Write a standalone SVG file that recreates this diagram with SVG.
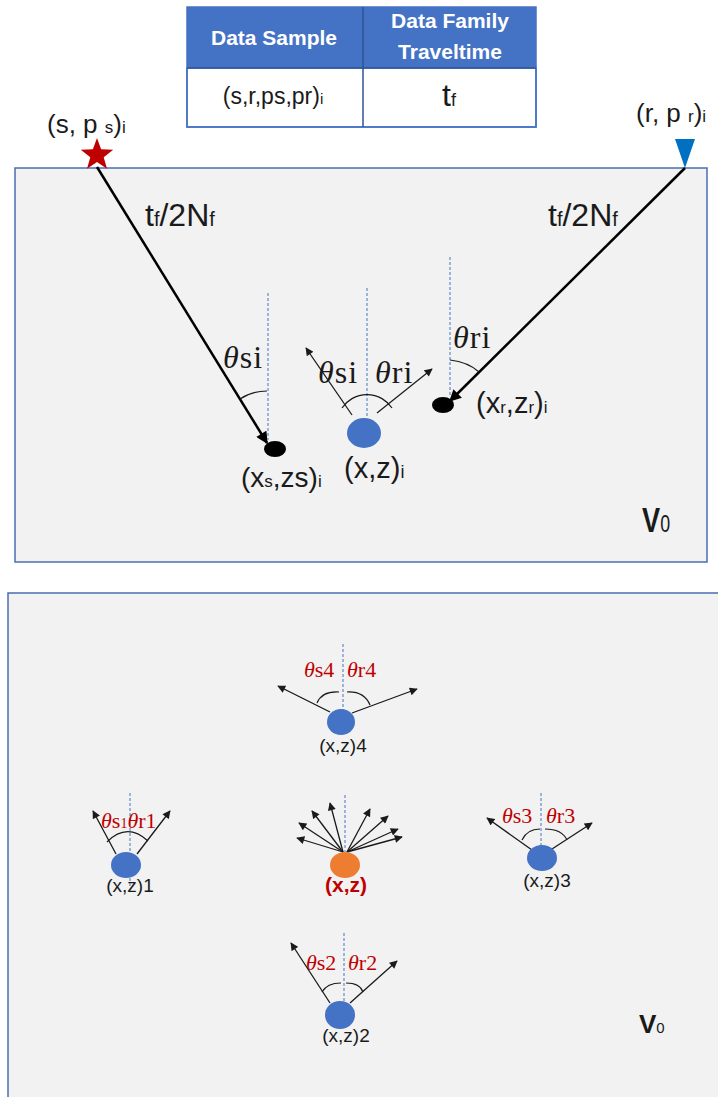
<svg xmlns="http://www.w3.org/2000/svg" width="718" height="1097" viewBox="0 0 718 1097">
<defs>
<style>
.panel{fill:#F2F2F2;stroke:#4A6EB0;stroke-width:1.5}
.sans{font-family:"Liberation Sans",Arial,sans-serif;fill:#1a1a1a}
.hdr{font-family:"Liberation Sans",Arial,sans-serif;font-weight:bold;fill:#fff;font-size:21px}
.serif{font-family:"Liberation Serif","Times New Roman",serif;fill:#1a1a1a}
.red{font-family:"Liberation Serif","Times New Roman",serif;fill:#C00000;font-size:22px}
.dash{stroke:#4472C4;stroke-width:1;stroke-dasharray:3,2;fill:none}
.thick{stroke:#000;stroke-width:2.5;fill:none}
.thin{stroke:#1a1a1a;stroke-width:1.3;fill:none}
.arc{stroke:#1a1a1a;stroke-width:1.2;fill:none}
.blue{fill:#4472C4}
.it{font-style:italic}
</style>
<marker id="ah" viewBox="0 0 10 10" refX="9" refY="5" markerWidth="13" markerHeight="12" markerUnits="userSpaceOnUse" orient="auto"><path d="M0,0 L10,5 L0,10 z" fill="#000"/></marker>
<marker id="as" viewBox="0 0 10 10" refX="9" refY="5" markerWidth="9" markerHeight="8" markerUnits="userSpaceOnUse" orient="auto"><path d="M0,0 L10,5 L0,10 z" fill="#1a1a1a"/></marker>
</defs>
<rect width="718" height="1097" fill="#fff"/>

<g id="table">
<rect x="187" y="7" width="349" height="61" fill="#4472C4"/>
<rect x="187" y="68" width="349" height="59" fill="#fff" stroke="#4472C4" stroke-width="1.5"/>
<rect x="187" y="7" width="349" height="120" fill="none" stroke="#4472C4" stroke-width="1.5"/>
<line x1="363" y1="7" x2="363" y2="127" stroke="#2F5597" stroke-width="1.5"/>
<line x1="187" y1="68" x2="536" y2="68" stroke="#2F5597" stroke-width="1.5"/>
<text class="hdr" x="274" y="45" text-anchor="middle">Data Sample</text>
<text class="hdr" x="450" y="28" text-anchor="middle">Data Family</text>
<text class="hdr" x="450" y="59" text-anchor="middle">Traveltime</text>
<text class="sans" x="273" y="104" text-anchor="middle" font-size="23">(s,r,ps,pr)<tspan font-size="15">i</tspan></text>
<text class="sans" x="449" y="106" text-anchor="middle" font-size="32">t<tspan font-size="18">f</tspan></text>
</g>

<g id="top-panel">
<rect class="panel" x="15" y="168" width="692" height="394"/>
</g>

<g id="bottom-panel">
<rect class="panel" x="8" y="593" width="720" height="520"/>
</g>

<g id="source">
<polygon points="97,138 101.1,149.3 113.2,149.8 103.7,157.2 107,168.8 97,162 87,168.8 90.3,157.2 80.8,149.8 92.9,149.3" fill="#C00000"/>
<text class="sans" x="47" y="133" font-size="26">(s, p <tspan font-size="17">s</tspan>)<tspan font-size="17">i</tspan></text>
</g>

<g id="receiver">
<polygon points="675,139 695,139 685,168" fill="#0070C0"/>
<text class="sans" x="636" y="122" font-size="26">(r, p <tspan font-size="17">r</tspan>)<tspan font-size="17">i</tspan></text>
</g>

<g id="connectors">
<line class="thick" x1="97" y1="167" x2="267" y2="443" marker-end="url(#ah)"/>
<line class="thick" x1="685" y1="168" x2="450" y2="401" marker-end="url(#ah)"/>
<line class="thin" x1="352" y1="415" x2="306" y2="348" marker-end="url(#as)"/>
<line class="thin" x1="377" y1="413" x2="432" y2="369" marker-end="url(#as)"/>
<line class="thin" x1="330" y1="712" x2="278" y2="686" marker-end="url(#as)"/>
<line class="thin" x1="352" y1="713" x2="417" y2="689" marker-end="url(#as)"/>
<line class="thin" x1="116" y1="854" x2="93" y2="811" marker-end="url(#as)"/>
<line class="thin" x1="137" y1="854" x2="170" y2="811" marker-end="url(#as)"/>
<line class="thin" x1="532" y1="850" x2="487" y2="818" marker-end="url(#as)"/>
<line class="thin" x1="552" y1="849" x2="592" y2="823" marker-end="url(#as)"/>
<line class="thin" x1="330" y1="1003" x2="291" y2="943" marker-end="url(#as)"/>
<line class="thin" x1="350" y1="1003" x2="397" y2="961" marker-end="url(#as)"/>
<line class="thin" x1="343" y1="852" x2="297" y2="838" marker-end="url(#as)"/>
<line class="thin" x1="343" y1="852" x2="299" y2="823" marker-end="url(#as)"/>
<line class="thin" x1="343" y1="852" x2="312" y2="811" marker-end="url(#as)"/>
<line class="thin" x1="343" y1="852" x2="330" y2="803" marker-end="url(#as)"/>
<line class="thin" x1="347" y1="852" x2="370" y2="809" marker-end="url(#as)"/>
<line class="thin" x1="347" y1="852" x2="388" y2="816" marker-end="url(#as)"/>
<line class="thin" x1="347" y1="852" x2="398" y2="829" marker-end="url(#as)"/>
<line class="thin" x1="347" y1="852" x2="402" y2="837" marker-end="url(#as)"/>
</g>

<g id="path-labels">
<text class="sans" x="145" y="226" font-size="32">t<tspan font-size="20">f</tspan>/2N<tspan font-size="20">f</tspan></text>
<text class="sans" x="548" y="226" font-size="32">t<tspan font-size="20">f</tspan>/2N<tspan font-size="20">f</tspan></text>
</g>

<g id="source-point">
<line class="dash" x1="268" y1="293" x2="268" y2="440"/>
<path class="arc" d="M240,399 Q252,391 267,391"/>
<ellipse cx="275" cy="449" rx="11" ry="8" fill="#000"/>
<text class="serif" x="223" y="368" font-size="32" letter-spacing="1"><tspan class="it">θ</tspan>si</text>
<text class="sans" x="241" y="487" font-size="28">(x<tspan font-size="17">s</tspan>,zs)<tspan font-size="17">i</tspan></text>
</g>

<g id="image-point">
<line class="dash" x1="367" y1="288" x2="367" y2="418"/>
<path class="arc" d="M342,408 A30 30 0 0 1 392,408"/>
<ellipse class="blue" cx="364" cy="433" rx="17" ry="15"/>
<text class="serif" x="318" y="383" font-size="32" letter-spacing="1"><tspan class="it">θ</tspan>si</text>
<text class="serif" x="375" y="383" font-size="32" letter-spacing="1"><tspan class="it">θ</tspan>ri</text>
<text class="sans" x="344" y="478" font-size="29">(x,z)<tspan font-size="18">i</tspan></text>
</g>

<g id="receiver-point">
<line class="dash" x1="450" y1="257" x2="450" y2="395"/>
<path class="arc" d="M450,360 Q468,362 479,372"/>
<ellipse cx="443" cy="405" rx="11" ry="8" fill="#000"/>
<text class="serif" x="453" y="348" font-size="32" letter-spacing="1"><tspan class="it">θ</tspan>ri</text>
<text class="sans" x="476" y="413" font-size="29">(x<tspan font-size="17">r</tspan>,z<tspan font-size="17">r</tspan>)<tspan font-size="17">i</tspan></text>
</g>

<g id="v0-top">
<text class="sans" font-weight="bold" font-size="32" transform="translate(642,532) scale(0.85,1.12)" fill="#000">V<tspan font-size="21" font-weight="normal">0</tspan></text>
</g>

<g id="node-4">
<line class="dash" x1="343" y1="644" x2="343" y2="712"/>
<path class="arc" d="M317,703 Q322,691 339,692"/>
<path class="arc" d="M347,692 Q364,691 370,705"/>
<ellipse class="blue" cx="341" cy="722" rx="14" ry="13"/>
<text class="red" x="304" y="677"><tspan class="it">θ</tspan>s4</text>
<text class="red" x="347" y="677"><tspan class="it">θ</tspan>r4</text>
<text class="sans" x="343" y="752" font-size="19" text-anchor="middle">(x,z)4</text>
</g>

<g id="node-1">
<line class="dash" x1="130" y1="793" x2="130" y2="887"/>
<path class="arc" d="M107,842 Q127,822 148,841"/>
<ellipse class="blue" cx="126" cy="865" rx="15" ry="13"/>
<text class="red" x="101" y="828" font-size="21"><tspan class="it">θ</tspan>s<tspan font-size="14">1</tspan><tspan class="it">θ</tspan>r1</text>
<text class="sans" x="130" y="892" font-size="19" text-anchor="middle">(x,z)1</text>
</g>

<g id="node-center">
<line class="dash" x1="345" y1="795" x2="345" y2="852"/>
<ellipse cx="345" cy="865" rx="15" ry="13" fill="#ED7D31"/>
<text x="346" y="892" text-anchor="middle" font-family="Liberation Sans,Arial,sans-serif" font-weight="bold" font-size="21" fill="#C00000">(x,z)</text>
</g>

<g id="node-3">
<line class="dash" x1="541" y1="793" x2="541" y2="846"/>
<path class="arc" d="M522,840 Q527,829 540,829"/>
<path class="arc" d="M545,829 Q562,829 567,840"/>
<ellipse class="blue" cx="542" cy="858" rx="15" ry="13"/>
<text class="red" x="502" y="823"><tspan class="it">θ</tspan>s3</text>
<text class="red" x="546" y="823"><tspan class="it">θ</tspan>r3</text>
<text class="sans" x="547" y="887" font-size="19" text-anchor="middle">(x,z)3</text>
</g>

<g id="node-2">
<line class="dash" x1="344" y1="933" x2="344" y2="1002"/>
<path class="arc" d="M322,992 Q327,983 341,983"/>
<path class="arc" d="M346,983 Q360,983 363,992"/>
<ellipse class="blue" cx="340" cy="1015" rx="15" ry="14"/>
<text class="red" x="306" y="970"><tspan class="it">θ</tspan>s2</text>
<text class="red" x="348" y="970"><tspan class="it">θ</tspan>r2</text>
<text class="sans" x="346" y="1042" font-size="19" text-anchor="middle">(x,z)2</text>
</g>

<g id="v0-bottom">
<text class="sans" x="639" y="1033" font-weight="bold" font-size="26" fill="#000">V<tspan font-size="15" font-weight="normal">0</tspan></text>
</g>
</svg>
